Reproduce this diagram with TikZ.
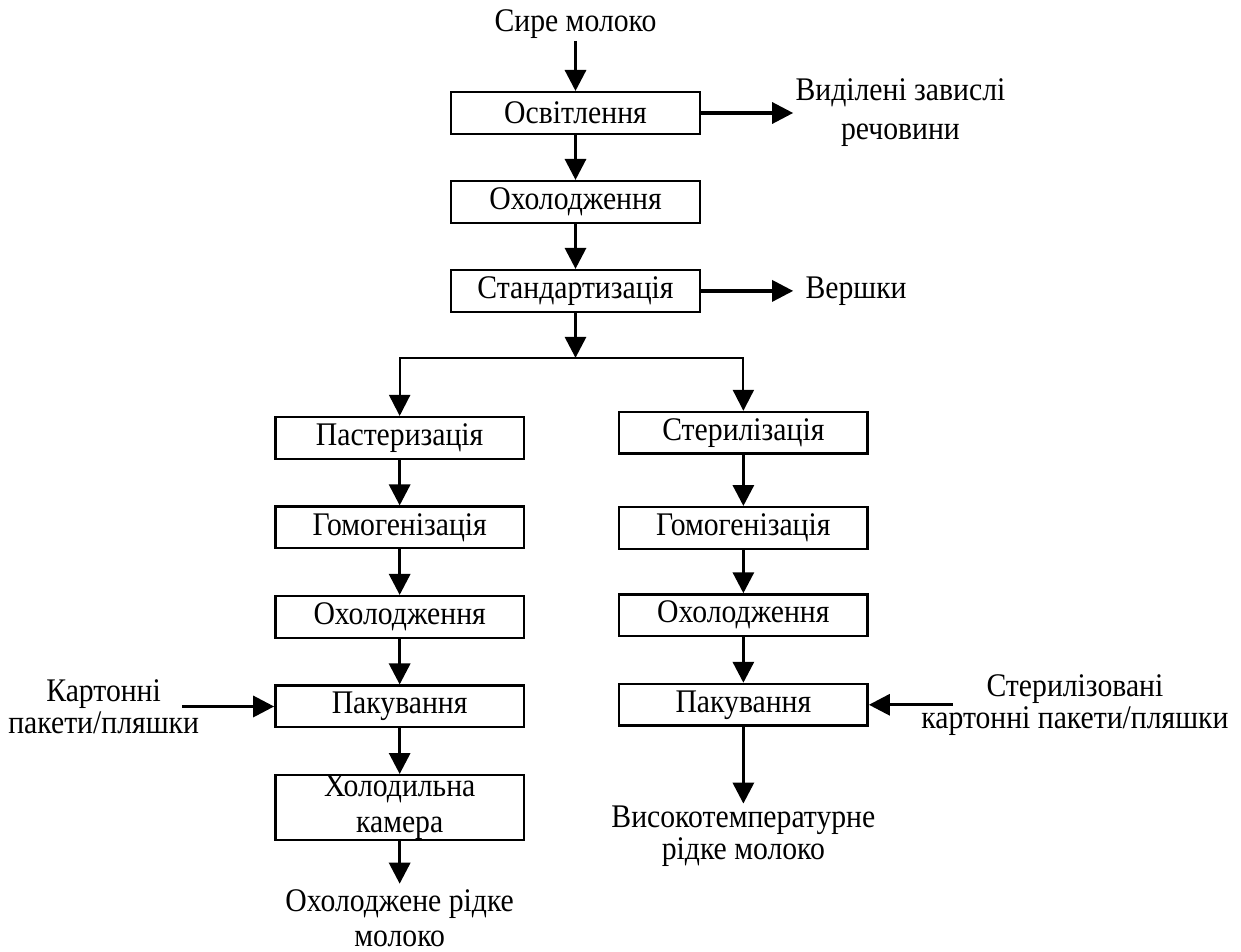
\documentclass[tikz,border=0pt]{standalone}
\usepackage{fontspec}
\setmainfont{Liberation Serif}[FakeStretch=0.9]
\usetikzlibrary{arrows.meta, positioning}

\begin{document}
\begin{tikzpicture}[x=0.5pt, y=-0.5pt, node distance=0.8cm,
    >={Triangle[length=10.5pt, width=10.5pt]},
    stage/.style={draw, line width=1.2pt, minimum width=124.3pt,
                  minimum height=20.8pt, inner sep=2pt,
                  font=\fontsize{16.5}{16.5}\selectfont},
    lbl/.style={inner sep=1pt, align=center,
                font=\fontsize{16.5}{16}\selectfont},
    flow/.style={->, line width=1.6pt},
    branch/.style={->, line width=1.1pt}]
  \useasboundingbox (0,0) rectangle (1241,952);

  % common line
  \node[stage] (osv) at (575.5,113) {Освітлення};
  \node[lbl, above=0.88cm of osv] (raw) {Сире молоко};
  \node[stage, below=0.79cm of osv] (cool) {Охолодження};
  \node[stage, below=0.79cm of cool] (std) {Стандартизація};
  \node[lbl, right=1.62cm of osv, font=\fontsize{16.5}{19.5}\selectfont] (susp)
    {Виділені завислі\\речовини};
  \node[lbl, inner sep=6pt, right=1.62cm of std] (cream) {Вершки};
  \coordinate[below=0.79cm of std] (split);

  \draw[flow] (raw) -- (osv);
  \draw[flow] (osv) -- (cool);
  \draw[flow] (cool) -- (std);
  \draw[flow] (osv.east) -- (osv.east -| susp.west);
  \draw[flow] (std) -- (cream);
  \draw[flow] (std) -- (split);

  % pasteurised milk
  \node[stage, below=1.81cm of std, xshift=-3.09cm] (past) {Пастеризація};
  \node[stage, below=of past] (homa) {Гомогенізація};
  \node[stage, below=of homa] (coola) {Охолодження};
  \node[stage, below=of coola] (packa) {Пакування};
  \node[stage, below=of packa, minimum height=32.3pt, inner ysep=0pt,
        align=center, font=\fontsize{16.5}{18}\selectfont] (fridge)
    {Холодильна\\камера};
  \node[lbl, below=0.75cm of fridge, inner ysep=3pt,
        font=\fontsize{16.5}{17.5}\selectfont] (outa) {Охолоджене рідке\\молоко};
  \node[lbl, left=1.28cm of packa] (boxa) {Картонні\\пакети/пляшки};

  \draw[branch] (split) -| (past);
  \draw[flow] (past) -- (homa);
  \draw[flow] (homa) -- (coola);
  \draw[flow] (coola) -- (packa);
  \draw[flow] (packa) -- (fridge);
  \draw[flow] (fridge) -- (outa);
  \draw[flow] (boxa.east) ++(-9.5pt,0) -- (packa.west);

  % sterilised milk
  \node[stage, below=1.72cm of std, xshift=2.95cm] (ster) {Стерилізація};
  \node[stage, below=0.9cm of ster] (homb) {Гомогенізація};
  \node[stage, below=0.76cm of homb] (coolb) {Охолодження};
  \node[stage, below=of coolb] (packb) {Пакування};
  \node[lbl, below=1.35cm of packb] (outb) {Високотемпературне\\рідке молоко};
  \node[lbl, right=0.88cm of packb] (boxb)
    {Стерилізовані\\картонні пакети/пляшки};

  \draw[branch] (split) -| (ster);
  \draw[flow] (ster) -- (homb);
  \draw[flow] (homb) -- (coolb);
  \draw[flow] (coolb) -- (packb);
  \draw[flow] (packb) -- (outb);
  \draw[flow] (boxb.west) ++(17pt,0) -- (packb.east);
\end{tikzpicture}
\end{document}
